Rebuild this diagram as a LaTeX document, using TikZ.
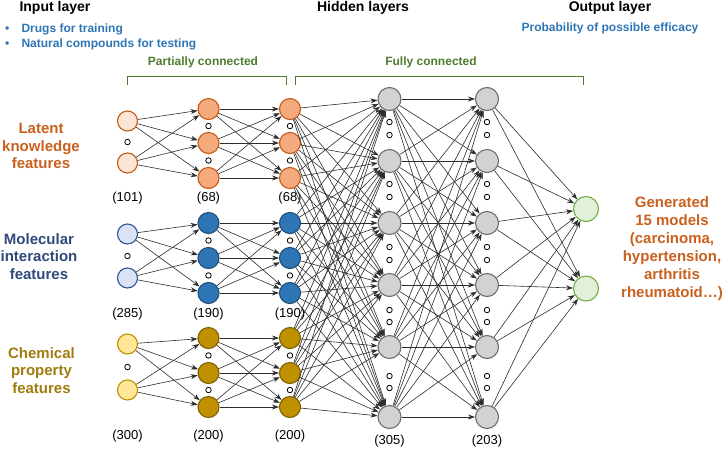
\documentclass[tikz,border=0pt]{standalone}
\usepackage{fontspec}
\setmainfont{Liberation Sans}
\usetikzlibrary{arrows.meta}
\definecolor{orgT}{HTML}{C9601E}
\definecolor{molT}{HTML}{2F4A7A}
\definecolor{chemT}{HTML}{A07C0E}
\definecolor{blueT}{HTML}{2E75B6}
\definecolor{grnT}{HTML}{4E7D2E}
\begin{document}
\begin{tikzpicture}[x=1pt,y=-1pt,
  neuron/.style={circle,inner sep=0pt,line width=1.1pt},
  la/.style={neuron,minimum size=20pt,fill={rgb,255:red,251;green,229;blue,214},draw={rgb,255:red,197;green,90;blue,17}},
  lb/.style={neuron,minimum size=21pt,fill={rgb,255:red,244;green,170;blue,125},draw={rgb,255:red,197;green,90;blue,17}},
  ma/.style={neuron,minimum size=20pt,fill={rgb,255:red,218;green,227;blue,243},draw={rgb,255:red,47;green,85;blue,151}},
  mb/.style={neuron,minimum size=21pt,fill={rgb,255:red,46;green,117;blue,182},draw={rgb,255:red,31;green,78;blue,121}},
  ca/.style={neuron,minimum size=20pt,fill={rgb,255:red,255;green,230;blue,153},draw={rgb,255:red,191;green,144;blue,0}},
  cb/.style={neuron,minimum size=21pt,fill={rgb,255:red,191;green,144;blue,0},draw={rgb,255:red,127;green,96;blue,0}},
  hid/.style={neuron,minimum size=23pt,fill={rgb,255:red,210;green,210;blue,210},draw={rgb,255:red,110;green,110;blue,110}},
  outn/.style={neuron,minimum size=25pt,fill={rgb,255:red,226;green,240;blue,217},draw={rgb,255:red,112;green,173;blue,71}},
  dotc/.style={circle,inner sep=0pt,minimum size=5.5pt,draw=black,fill=white,line width=0.8pt},
  conn/.style={draw={rgb,255:red,45;green,45;blue,45},line width=0.6pt,-{Stealth[length=7pt,width=5pt]}},
  cnt/.style={font=\fontsize{13}{15}\selectfont,text=black},
  head/.style={font=\bfseries\fontsize{14}{16}\selectfont,text=black},
  side/.style={font=\bfseries\fontsize{15}{17.5}\selectfont,align=center},
  brk/.style={draw=grnT,line width=1.2pt},
  brktxt/.style={font=\bfseries\fontsize{12}{14}\selectfont,text=grnT}
]
\useasboundingbox (0,0) rectangle (726,451);

% headers
\node[head,anchor=west] (hin) at (16,8) {Input layer};
\node[head] (hhid) at (363,8) {Hidden layers};
\node[head] (hout) at (610,8) {Output layer};
\node[font=\bfseries\fontsize{12}{14}\selectfont,text=blueT,anchor=west] (b1) at (0,29) {\makebox[18pt][l]{\hspace{1.5pt}\textbullet}Drugs for training};
\node[font=\bfseries\fontsize{12}{14}\selectfont,text=blueT,anchor=west] (b2) at (0,44) {\makebox[18pt][l]{\hspace{1.5pt}\textbullet}Natural compounds for testing};
\node[font=\bfseries\fontsize{12}{14}\selectfont,text=blueT] (prob) at (610,28) {Probability of possible efficacy};

% brackets
\node[brktxt] (pc) at (203,62.5) {Partially connected};
\node[brktxt] (fc) at (431,62.5) {Fully connected};
\draw[brk] (127.3,84.5) -- (127.3,76.7) -- (286.7,76.7) -- (286.7,84.5);
\draw[brk] (295.7,84.5) -- (295.7,76.7) -- (583.3,76.7) -- (583.3,84.5);

% side labels
\node[side,text=orgT] (tl) at (41,146) {Latent\\knowledge\\features};
\node[side,text=molT] (tm) at (39,256.5) {Molecular\\interaction\\features};
\node[side,text=chemT] (tc) at (41.5,370.5) {Chemical\\property\\features};
\node[side,text=orgT,font=\bfseries\fontsize{15}{18}\selectfont] (tr) at (672,249) {Generated\\15 models\\(carcinoma,\\hypertension,\\arthritis\\rheumatoid\ldots)};

% feature groups
\foreach \g/\st/\sk/\p/\q/\r/\s/\t in {a/la/lb/121/163/109/143/178, b/ma/mb/234/278/223/258/293, c/ca/cb/344/390/338/373/407}{
  \node[\st] (\g1-1) at (127.5,\p) {};
  \node[\st] (\g1-2) at (127.5,\q) {};
  \node[dotc] (\g1-d) at (127.5,{(\p+\q)/2}) {};
  \foreach \c in {2,3}{
    \node[\sk] (\g\c-1) at ({208.5+(\c-2)*81.5},\r) {};
    \node[\sk] (\g\c-2) at ({208.5+(\c-2)*81.5},\s) {};
    \node[\sk] (\g\c-3) at ({208.5+(\c-2)*81.5},\t) {};
    \node[dotc] (\g\c-d1) at ({208.5+(\c-2)*81.5},{(\r+\s)/2}) {};
    \node[dotc] (\g\c-d2) at ({208.5+(\c-2)*81.5},{(\s+\t)/2}) {};
  }
}
\node[cnt] (n11) at (127.5,198) {(101)};
\node[cnt] (n12) at (208.5,198) {(68)};
\node[cnt] (n13) at (290,198) {(68)};
\node[cnt] (n21) at (127.5,314) {(285)};
\node[cnt] (n22) at (208.5,314) {(190)};
\node[cnt] (n23) at (290,314) {(190)};
\node[cnt] (n31) at (127.5,436) {(300)};
\node[cnt] (n32) at (208.5,436) {(200)};
\node[cnt] (n33) at (290,436) {(200)};

% hidden layers
\foreach \i/\y in {1/99,2/161,3/223,4/285,5/347,6/417}{
  \node[hid] (h\i) at (389.5,\y) {};
  \node[hid] (k\i) at (487,\y) {};
}
\foreach \i/\ya/\yb in {1/122/135,2/184/197,3/247/260,4/310/322,5/376/388}{
  \node[dotc] (hd\i a) at (389.5,\ya) {};
  \node[dotc] (hd\i b) at (389.5,\yb) {};
  \node[dotc] (kd\i a) at (487,\ya) {};
  \node[dotc] (kd\i b) at (487,\yb) {};
}
\node[cnt] (n4) at (389.5,441.5) {(305)};
\node[cnt] (n5) at (487,441.5) {(203)};

% outputs
\node[outn] (o1) at (586,209) {};
\node[outn] (o2) at (586,288.5) {};

% connections
\foreach \g in {a,b,c}{
  \foreach \i in {1,2}{\foreach \j in {1,2,3}{\draw[conn] (\g1-\i) -- (\g2-\j);}}
  \foreach \i in {1,2,3}{\foreach \j in {1,2,3}{\draw[conn] (\g2-\i) -- (\g3-\j);}}
  \foreach \i in {1,2,3}{\foreach \j in {1,...,6}{\draw[conn] (\g3-\i) -- (h\j);}}
}
\foreach \i in {1,...,6}{\foreach \j in {1,...,6}{\draw[conn] (h\i) -- (k\j);}}
\foreach \i in {1,...,6}{\foreach \j in {1,2}{\draw[conn] (k\i) -- (o\j);}}
\end{tikzpicture}
\end{document}
